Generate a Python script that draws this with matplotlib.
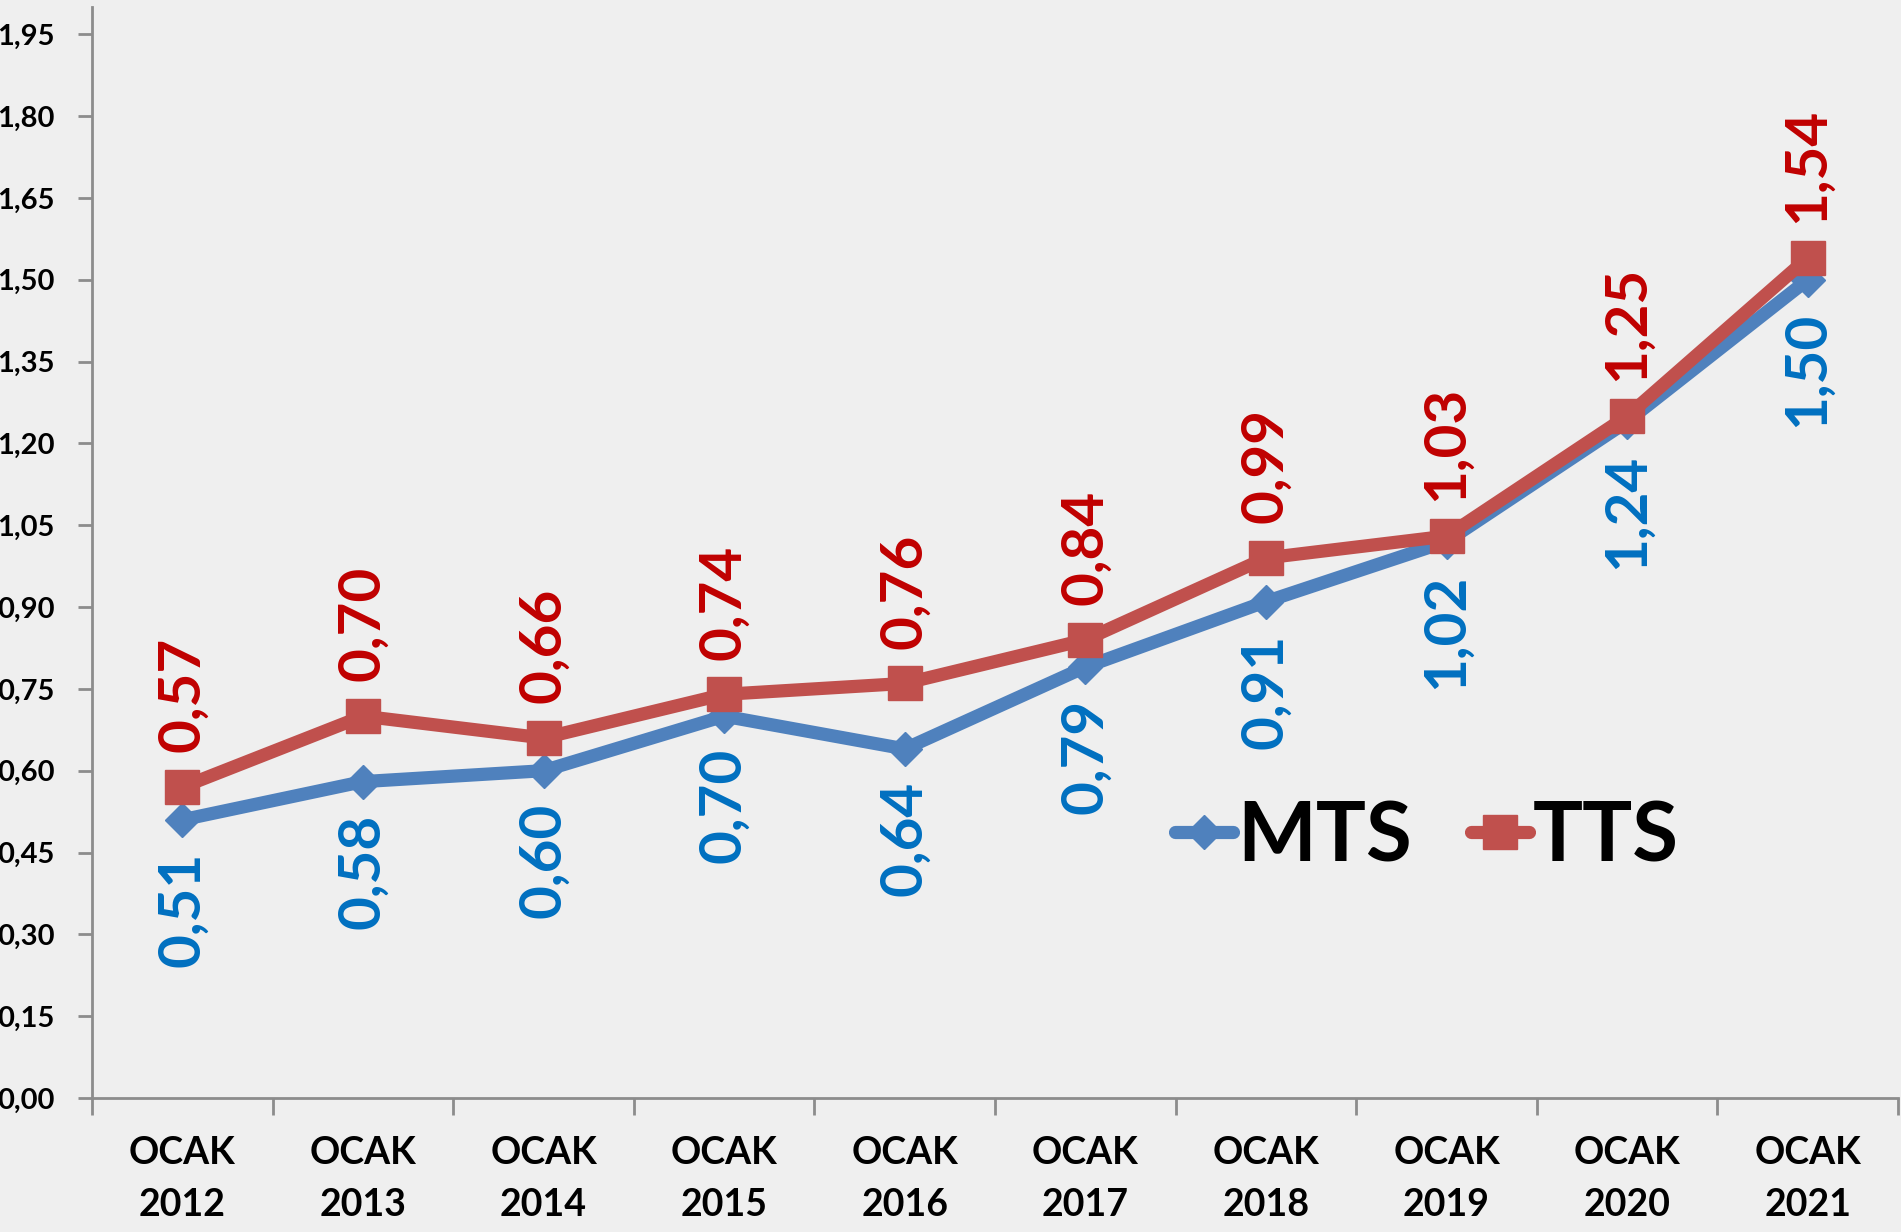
import matplotlib
matplotlib.use("Agg")
import matplotlib.pyplot as plt
from matplotlib.lines import Line2D

plt.rcParams['font.family'] = ['Lato', 'DejaVu Sans']
plt.rcParams['font.weight'] = 'bold'

categories = ["OCAK\n2012", "OCAK\n2013", "OCAK\n2014", "OCAK\n2015", "OCAK\n2016",
              "OCAK\n2017", "OCAK\n2018", "OCAK\n2019", "OCAK\n2020", "OCAK\n2021"]
mts = [0.51, 0.58, 0.60, 0.70, 0.64, 0.79, 0.91, 1.02, 1.24, 1.50]
tts = [0.57, 0.70, 0.66, 0.74, 0.76, 0.84, 0.99, 1.03, 1.25, 1.54]
yticks = [0.00, 0.15, 0.30, 0.45, 0.60, 0.75, 0.90, 1.05, 1.20, 1.35, 1.50, 1.65, 1.80, 1.95]
series_names = ["MTS", "TTS"]

bg = "#EFEFEF"
mts_line = "#4F81BD"
tts_line = "#C0504D"
mts_lab = "#0070C0"
tts_lab = "#C00000"
axis_col = "#8C8C8C"

fig = plt.figure(figsize=(19.01, 12.32), dpi=100)
fig.patch.set_facecolor(bg)
ax = fig.add_axes([92/1901, 1 - 1098/1232, (1898-92)/1901, (1098-7)/1232])
ax.set_facecolor(bg)

x = list(range(len(categories)))
ax.plot(x, mts, color=mts_line, lw=9.5, marker='D', ms=17, solid_joinstyle='round',
        solid_capstyle='round', zorder=3)
ax.plot(x, tts, color=tts_line, lw=9.5, marker='s', ms=25, solid_joinstyle='round',
        solid_capstyle='round', zorder=4)

for xi, v in zip(x, mts):
    ax.annotate(f"{v:.2f}".replace('.', ','), (xi, v), xytext=(0, -23),
                textcoords='offset points', rotation=90, ha='center', va='top',
                color=mts_lab, fontsize=42, fontweight='bold', zorder=5)
for xi, v in zip(x, tts):
    ax.annotate(f"{v:.2f}".replace('.', ','), (xi, v), xytext=(0, 25),
                textcoords='offset points', rotation=90, ha='center', va='bottom',
                color=tts_lab, fontsize=42, fontweight='bold', zorder=5)

ax.set_xlim(-0.5, len(categories) - 0.5)
ax.set_ylim(0, 2.0)
ax.set_yticks(yticks)
ax.set_yticklabels([f"{t:.2f}".replace('.', ',') for t in yticks], fontsize=21,
                   fontweight='bold')
ax.set_xticks(x)
ax.set_xticklabels(categories, fontsize=27, fontweight='bold', linespacing=1.65)
ax.set_xticks([i - 0.5 for i in range(len(categories) + 1)], minor=True)
ax.tick_params(axis='x', which='major', length=0, pad=27)
ax.tick_params(axis='x', which='minor', length=12, width=2, color=axis_col)
ax.tick_params(axis='y', which='major', length=10, width=2, color=axis_col, pad=17)

for s in ['top', 'right']:
    ax.spines[s].set_visible(False)
for s in ['left', 'bottom']:
    ax.spines[s].set_color(axis_col)
    ax.spines[s].set_linewidth(2)

handles = [
    Line2D([], [], color=mts_line, lw=9.5, marker='D', ms=17, solid_capstyle='round'),
    Line2D([], [], color=tts_line, lw=9.5, marker='s', ms=25, solid_capstyle='round'),
]
leg = fig.legend(handles, series_names, loc='center left',
                 bbox_to_anchor=(1175/1901, 1 - 838/1232), ncol=2, frameon=False,
                 prop={'family': ['Lato', 'DejaVu Sans'], 'weight': 'bold', 'size': 60},
                 handlelength=0.7, handletextpad=0.05, columnspacing=0.7,
                 borderpad=0, borderaxespad=0)

fig.savefig("out.png", dpi=100, facecolor=bg)
